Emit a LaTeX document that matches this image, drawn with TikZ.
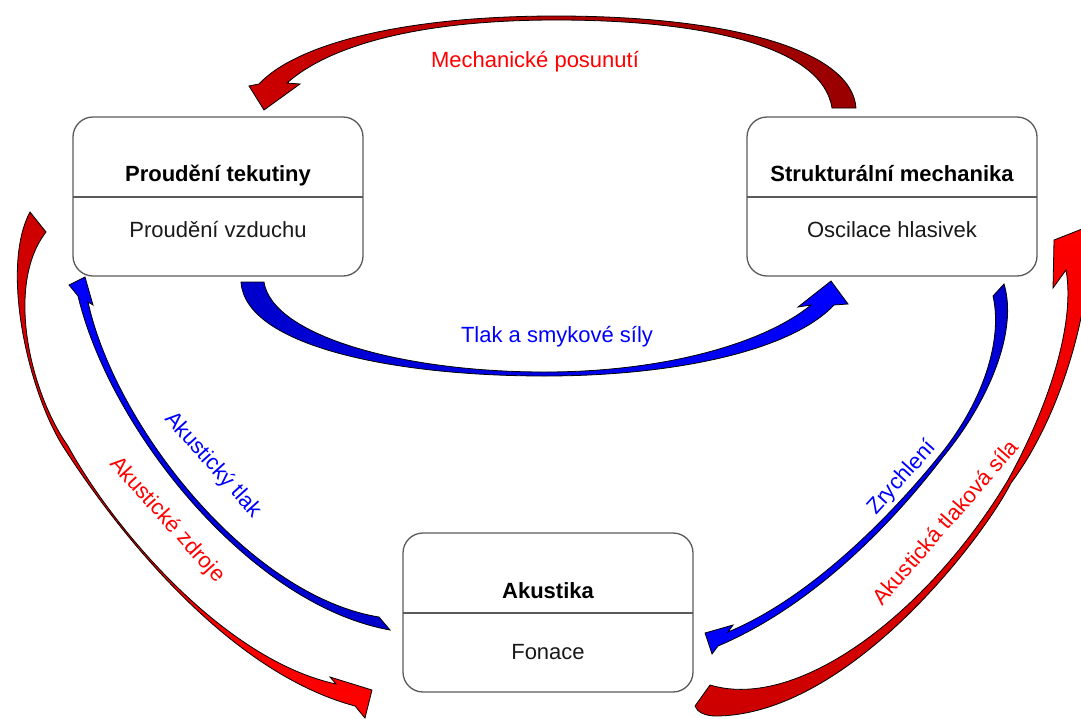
\documentclass[tikz,border=0pt]{standalone}
\usepackage{fontspec}
\setmainfont{Liberation Sans}
\definecolor{tred}{HTML}{FF0000}
\definecolor{tblue}{HTML}{0000FF}
\definecolor{boxgray}{HTML}{5A5A5A}
\definecolor{rA}{HTML}{CC0000}
\definecolor{rB}{HTML}{990000}
\definecolor{rC}{HTML}{FF0000}
\definecolor{bA}{HTML}{0000CC}
\definecolor{bB}{HTML}{0000FF}
\begin{document}
\begin{tikzpicture}[x=1pt,y=-1pt,
  box/.style={draw=boxgray, line width=1.3pt, rounded corners=20pt, minimum width=290pt, minimum height=159pt, inner sep=0pt, outer sep=0pt},
  sepline/.style={draw=boxgray, line width=1.3pt},
  ttl/.style={font=\fontsize{22}{26}\selectfont\bfseries, anchor=base, text=black, inner sep=0pt},
  sub/.style={font=\fontsize{22}{26}\selectfont, anchor=base, text=black!90, inner sep=0pt},
  lbl/.style={font=\fontsize{22}{26}\selectfont, inner sep=0pt},
  arr/.style={draw=black, line width=0.8pt, line join=miter}]
\path[use as bounding box] (0,0) rectangle (1081,718);
\clip (0,0) rectangle (1081,718);

% boxes
\node[box] (b1) at (218,196.5) {};
\node[box] (b2) at (892,196.5) {};
\node[box] (b3) at (548,612.5) {};
\draw[sepline] ([yshift=-80pt]b1.north west) -- ([yshift=-80pt]b1.north east);
\draw[sepline] ([yshift=-80pt]b2.north west) -- ([yshift=-80pt]b2.north east);
\draw[sepline] ([yshift=-80pt]b3.north west) -- ([yshift=-80pt]b3.north east);
\node[ttl] (t1) at (218,181) {Proudění tekutiny};
\node[sub] (s1) at (218,237) {Proudění vzduchu};
\node[ttl] (t2) at (892,181) {Strukturální mechanika};
\node[sub] (s2) at (892,237) {Oscilace hlasivek};
\node[ttl] (t3) at (548,598) {Akustika};
\node[sub] (s3) at (548,659) {Fonace};

% top red arrow: b2 -> b1
\draw[arr, left color=rA, right color=rB]
 (832,108) -- (856,108)
 .. controls (852,50) and (730,16) .. (556,16)
 .. controls (400,16) and (295,45) .. (259,84)
 -- (249,86) -- (264,110) -- (300,84) -- (287,83)
 .. controls (330,45) and (420,20) .. (556,20)
 .. controls (700,20) and (822,45) .. (832,108) -- cycle;

% bottom blue arrow: b1 -> b2
\draw[arr, left color=bA, right color=bB]
 (241,282) -- (264,282)
 .. controls (272,335) and (400,372) .. (545,372)
 .. controls (660,372) and (762,345) .. (811,305)
 -- (798,307) -- (831,281) -- (848,304) -- (834,305)
 .. controls (790,352) and (670,376) .. (545,376)
 .. controls (390,376) and (245,345) .. (241,282) -- cycle;

% left blue arrow: b3 -> b1
\draw[arr, top color=bB, bottom color=bA]
 (379,617) -- (390,630)
 .. controls (250,605) and (110,430) .. (78,296)
 -- (69,285) -- (85,277) -- (93,305) -- (88,302)
 .. controls (116,428) and (250,596) .. (379,617) -- cycle;

% left red arrow: b1 -> b3
\draw[arr, top color=rA, bottom color=rC]
 (46,232) -- (30,212)
 .. controls (0,268) and (28,392) .. (64,448)
 .. controls (118,532) and (228,672) .. (355,706)
 -- (365,718) -- (372,690) -- (330,677) -- (336,684)
 .. controls (225,660) and (114,530) .. (68,446)
 .. controls (30,392) and (5,285) .. (46,232) -- cycle;

% right blue arrow: b2 -> b3
\draw[arr, top color=bA, bottom color=bB]
 (993,296) -- (1004,284)
 .. controls (1018,330) and (990,400) .. (943,457)
 .. controls (895,520) and (815,605) .. (718,646)
 -- (712,654) -- (705,633) -- (733,625) -- (728,632)
 .. controls (810,598) and (890,517) .. (940,455)
 .. controls (983,402) and (1003,340) .. (993,296) -- cycle;

% right red arrow: b3 -> b2
\draw[arr, bottom color=rA, top color=rC]
 (710,685) .. controls (800,712) and (930,610) .. (1008,480)
 .. controls (1052,400) and (1075,320) .. (1066,270)
 -- (1053,288) -- (1054,240) -- (1110,218) -- (1110,290) -- (1086,285)
 .. controls (1082,330) and (1058,420) .. (1011,483)
 .. controls (985,535) and (850,715) .. (716,716)
 .. controls (705,716) and (697,712) .. (695,706) -- cycle;

% labels
\node[lbl, text=tred] (l1) at (535,62) {Mechanické posunutí};
\node[lbl, text=tblue] (l2) at (557,337) {Tlak a smykové síly};
\node[lbl, text=tblue, rotate=-48] (l3) at (213,465) {Akustický tlak};
\node[lbl, text=tred, rotate=-48] (l4) at (167,520) {Akustické zdroje};
\node[lbl, text=tblue, rotate=48] (l5) at (902,478) {Zrychlení};
\node[lbl, text=tred, rotate=49] (l6) at (945,522) {Akustická tlaková síla};
\end{tikzpicture}
\end{document}
